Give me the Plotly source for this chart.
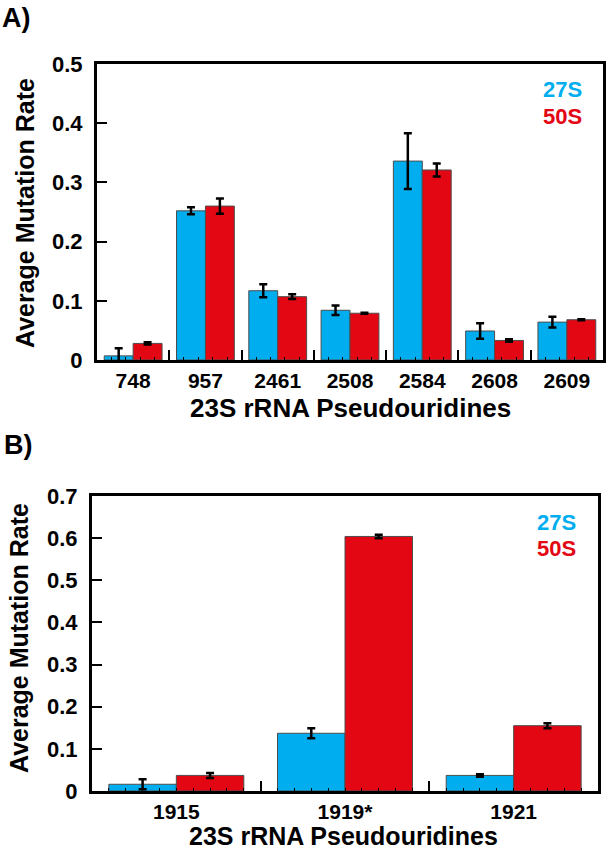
import plotly.graph_objects as go

W, H = 608, 849

# ---- Data ----
cats_a = ["748", "957", "2461", "2508", "2584", "2608", "2609"]
a27 = [0.007, 0.252, 0.117, 0.084, 0.336, 0.049, 0.064]
a27_err = [0.013, 0.006, 0.011, 0.008, 0.047, 0.013, 0.009]
a50 = [0.028, 0.260, 0.107, 0.079, 0.321, 0.033, 0.068]
a50_err = [0.002, 0.013, 0.004, 0.001, 0.011, 0.002, 0.001]

cats_b = ["1915", "1919*", "1921"]
b27 = [0.016, 0.137, 0.037]
b27_err = [0.012, 0.012, 0.003]
b50 = [0.037, 0.604, 0.155]
b50_err = [0.006, 0.004, 0.006]

series_names = ["27S", "50S"]
yticks_a = [0, 0.1, 0.2, 0.3, 0.4, 0.5]
yticks_b = [0, 0.1, 0.2, 0.3, 0.4, 0.5, 0.6, 0.7]

BLUE = "#00AEEF"
RED = "#E30613"
FONT = "Liberation Sans, Arial, Helvetica, sans-serif"


def px(x):
    return x / W


def py(y):
    return 1 - y / H


fig = go.Figure()


def add_bars(cats, vals, errs, color, name, xa, ya):
    fig.add_trace(go.Bar(
        x=cats, y=vals, name=name, xaxis=xa, yaxis=ya,
        marker=dict(color=color, line=dict(color="#4d4d4d", width=1)),
        error_y=dict(type="data", array=errs, visible=True,
                     color="black", thickness=2.5, width=4),
        showlegend=False,
    ))


add_bars(cats_a, a27, a27_err, BLUE, series_names[0], "x", "y")
add_bars(cats_a, a50, a50_err, RED, series_names[1], "x", "y")
add_bars(cats_b, b27, b27_err, BLUE, series_names[0], "x2", "y2")
add_bars(cats_b, b50, b50_err, RED, series_names[1], "x2", "y2")

# invisible helper traces so the minor-tick overlay axes get drawn
for xa, ya, vals in (("x3", "y", a27), ("x4", "y2", b27)):
    fig.add_trace(go.Scatter(
        x=list(range(len(vals))), y=vals, xaxis=xa, yaxis=ya,
        mode="markers", marker=dict(opacity=0), hoverinfo="skip",
        showlegend=False,
    ))

axis_common = dict(
    showline=True, linecolor="black", linewidth=3, mirror=True,
    ticks="inside", ticklen=10, tickwidth=1.5, tickcolor="black",
    showgrid=False, zeroline=False, automargin=False,
)
yfont = dict(family=FONT, size=22, color="black", weight="bold")
xfont = dict(family=FONT, size=21, color="black", weight="bold")

minor_common = dict(
    showline=False, showgrid=False, zeroline=False, showticklabels=False,
    ticks="inside", ticklen=3, tickwidth=1, tickcolor="black",
    automargin=False, fixedrange=True,
)

fig.update_layout(
    template="none",
    width=W, height=H,
    margin=dict(l=0, r=0, t=0, b=0, pad=0),
    paper_bgcolor="white", plot_bgcolor="white",
    barmode="group", bargap=0.2, bargroupgap=0,
    xaxis=dict(domain=[px(97), px(603)], anchor="y", type="category",
               tickson="boundaries", ticklabelstandoff=0, tickfont=xfont,
               **axis_common),
    yaxis=dict(domain=[py(360), py(64)], anchor="x", range=[0, 0.5],
               tickvals=yticks_a, ticklabelstandoff=7, tickfont=yfont,
               **axis_common),
    xaxis2=dict(domain=[px(92), px(598)], anchor="y2", type="category",
                tickson="boundaries", ticklabelstandoff=0, tickfont=xfont,
                **axis_common),
    yaxis2=dict(domain=[py(791), py(496)], anchor="x2", range=[0, 0.7],
                tickvals=yticks_b, ticklabelstandoff=7, tickfont=yfont,
                **axis_common),
    xaxis3=dict(overlaying="x", anchor="y", side="bottom",
                range=[-0.5, len(cats_a) - 0.5], tick0=-0.5, dtick=0.2,
                **minor_common),
    xaxis4=dict(overlaying="x2", anchor="y2", side="bottom",
                range=[-0.5, len(cats_b) - 0.5], tick0=-0.5, dtick=0.1,
                **minor_common),
)


def ann(text, x, y, size, color="black", angle=0, xanchor="center"):
    fig.add_annotation(
        text=text, x=px(x), y=py(y), xref="paper", yref="paper",
        showarrow=False, textangle=angle, xanchor=xanchor, yanchor="middle",
        font=dict(family=FONT, size=size, color=color, weight="bold"),
    )


# Panel labels
ann("A)", 0, 18, 27, xanchor="left")
ann("B)", 2, 445, 27, xanchor="left")

# Axis titles
ann("Average Mutation Rate", 25, 213, 25, angle=-90)
ann("23S rRNA Pseudouridines", 350, 408, 26)
ann("Average Mutation Rate", 19, 638, 25, angle=-90)
ann("23S rRNA Pseudouridines", 343, 836, 25)

# In-plot legends
ann(series_names[0], 584, 90, 22, color=BLUE, xanchor="right")
ann(series_names[1], 584, 117, 22, color=RED, xanchor="right")
ann(series_names[0], 578, 522, 22, color=BLUE, xanchor="right")
ann(series_names[1], 578, 548, 22, color=RED, xanchor="right")

fig.write_html(
    "out.html",
    config={"displayModeBar": False},
    post_script="document.body.style.margin='0px';"
                "document.body.style.overflow='hidden';",
)
